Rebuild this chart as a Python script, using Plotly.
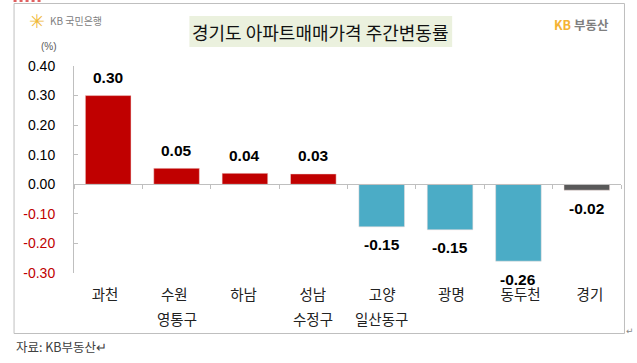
import plotly.graph_objects as go

categories = ["과천", "수원 영통구", "하남", "성남 수정구", "고양 일산동구", "광명", "동두천", "경기"]
axis_labels = ["과천", "수원", "하남", "성남", "고양", "광명", "동두천", "경기"]
axis_labels_row2 = ["", "영통구", "", "수정구", "일산동구", "", "", ""]
values = [0.30, 0.054, 0.037, 0.035, -0.144, -0.154, -0.26, -0.02]
value_labels = ["0.30", "0.05", "0.04", "0.03", "-0.15", "-0.15", "-0.26", "-0.02"]
bar_colors = ["#c00000"] * 4 + ["#4bacc6"] * 3 + ["#595959"]
y_ticks = [0.4, 0.3, 0.2, 0.1, 0.0, -0.1, -0.2, -0.3]
y_tick_labels = ["0.40", "0.30", "0.20", "0.10", "0.00",
                 "<span style='color:#c00000'>-0.10</span>",
                 "<span style='color:#c00000'>-0.20</span>",
                 "<span style='color:#c00000'>-0.30</span>"]

W, H = 637, 363
ML, MR, MT, MB = 73.5, 16, 66, 90
KR = "'Noto Sans CJK KR', 'Noto Sans', sans-serif"
NUM = "'Liberation Sans', Arial, sans-serif"
AX = "#bfbfbf"

def px(x): return (x - ML) / (W - ML - MR)
def py(y): return 1 - (y - MT) / (H - MT - MB)

fig = go.Figure()
fig.add_bar(x=categories, y=values, marker=dict(color=bar_colors, line=dict(color="#f2dcdb", width=0.5)),
            width=0.667, hoverinfo="skip", xaxis="x", yaxis="y")
# invisible companion that brings up the lower axis carrying the category names
fig.add_scatter(x=categories, y=values, mode="markers", marker=dict(opacity=0), showlegend=False,
                hoverinfo="skip", xaxis="x2", yaxis="y")

for c, v, t in zip(categories, values, value_labels):
    fig.add_annotation(x=c, y=v, text=t, showarrow=False, yanchor="middle", xref="x", yref="y",
                       yshift=18 if v > 0 else -18,
                       font=dict(family=NUM, size=15.5, color="#000000", weight=700))

paper = dict(xref="paper", yref="paper", showarrow=False)
for c, t in zip(categories, axis_labels_row2):
    if t:
        fig.add_annotation(x=c, xref="x", y=py(318), yref="paper", text=t, showarrow=False,
                           xanchor="center", yanchor="middle",
                           font=dict(family=KR, size=14.5, color="#222222"))
fig.add_annotation(x=px(320), y=py(32), text="경기도 아파트매매가격 주간변동률", xanchor="center", yanchor="middle",
                   font=dict(family=KR, size=18, color="#111111"), **paper)
fig.add_annotation(x=px(47), y=py(21), text="KB 국민은행", xanchor="left", yanchor="middle",
                   font=dict(family=KR, size=10, color="#808080"), **paper)
fig.add_annotation(x=px(36), y=py(21), text="✳", xanchor="center", yanchor="middle",
                   font=dict(family="DejaVu Sans", size=19, color="#f0b93a"), **paper)
fig.add_annotation(x=px(611), y=py(24), xanchor="right", yanchor="middle",
                   text="<span style='color:#f5b335'><b>KB</b></span> <b>부동산</b>",
                   font=dict(family=KR, size=12.5, color="#7f7f7f"), **paper)
fig.add_annotation(x=px(48), y=py(46), text="(%)", xanchor="center", yanchor="middle",
                   font=dict(family=NUM, size=10, color="#595959"), **paper)
fig.add_annotation(x=px(13), y=py(346), text="자료: KB부동산↵", xanchor="left", yanchor="middle",
                   font=dict(family=KR, size=12.5, color="#404040"), **paper)
fig.add_annotation(x=px(630), y=py(331), text="↵", xanchor="center", yanchor="middle",
                   font=dict(family="DejaVu Sans", size=9, color="#888888"), **paper)

fig.add_shape(type="rect", xref="paper", yref="paper", x0=px(13.5), x1=px(624.5), y0=py(333.5), y1=py(3.5),
              line=dict(color=AX, width=1), fillcolor="rgba(0,0,0,0)", layer="below")
fig.add_shape(type="rect", xref="paper", yref="paper", x0=px(189), x1=px(452), y0=py(47), y1=py(16),
              line=dict(width=0), fillcolor="#ebf1de", layer="below")
fig.add_shape(type="line", xref="paper", yref="paper", x0=px(13), x1=px(43), y0=py(1), y1=py(1),
              line=dict(color="#e06060", width=2, dash="dot"))

fig.update_layout(
    width=W, height=H, autosize=False, showlegend=False,
    margin=dict(l=ML, r=MR, t=MT, b=MB, autoexpand=False),
    paper_bgcolor="white", plot_bgcolor="white",
    xaxis=dict(type="category", categoryorder="array", categoryarray=categories, anchor="free",
               position=0.3 / 0.7, showticklabels=False, tickson="boundaries", ticks="outside",
               ticklen=4, tickcolor=AX, showline=True, linecolor=AX, showgrid=False, zeroline=False),
    xaxis2=dict(type="category", categoryorder="array", categoryarray=categories, overlaying="x",
                side="bottom", anchor="y", tickmode="array", tickvals=categories, ticktext=axis_labels,
                ticks="", showline=False, showgrid=False, zeroline=False, ticklabelstandoff=11,
                tickfont=dict(family=KR, size=14.5, color="#222222")),
    yaxis=dict(range=[-0.3, 0.4], tickmode="array", tickvals=y_ticks, ticktext=y_tick_labels,
               ticks="inside", ticklen=4, tickcolor=AX, showline=True, linecolor=AX, showgrid=False,
               zeroline=False, ticklabelstandoff=15, tickfont=dict(family=NUM, size=14, color="#000000")),
)

fig.write_html("out.html", post_script="document.body.style.margin='0';",
               config={"displayModeBar": False})
